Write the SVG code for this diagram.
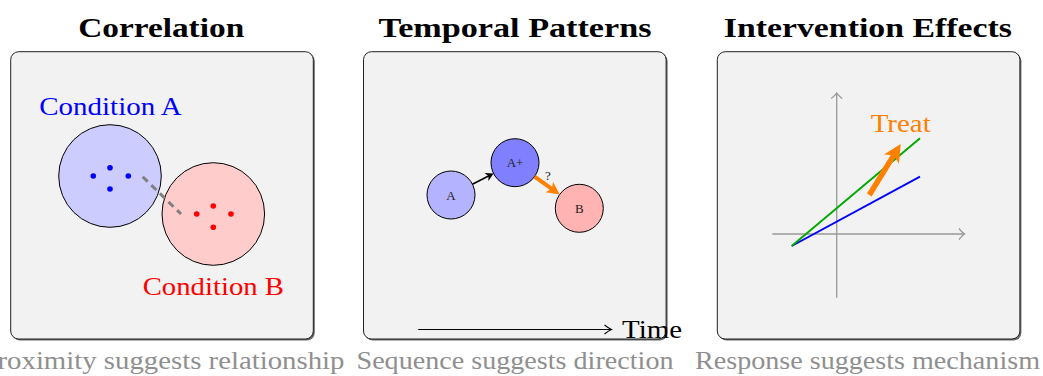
<svg xmlns="http://www.w3.org/2000/svg" width="1043" height="376" viewBox="0 0 1043 376">
<style>
text{font-family:"Liberation Serif","Times New Roman",serif}
.title{font-size:28px;font-weight:bold;fill:#000}
.lbl{font-size:26px}
.cap{font-size:26px;fill:#8f8f8f}
.small{font-size:13px;fill:#222}
.panel{fill:#f2f2f2;stroke:#222;stroke-width:1}
.shadow{fill:#666}
.cir{stroke:#000;stroke-width:1}
.axis{stroke:#999;stroke-width:1.3;fill:none}
</style>
<defs>
<marker id="stealthK" viewBox="-4 -4 8 8" markerWidth="8" markerHeight="8" refX="0" refY="0" orient="auto" markerUnits="strokeWidth" overflow="visible">
<path d="M2.5,0 L-2.5,-2.8 L-1.1,0 L-2.5,2.8 Z" fill="#000"/>
</marker>
<marker id="stealthO" viewBox="-4 -4 8 8" markerWidth="8" markerHeight="8" refX="0" refY="0" orient="auto" markerUnits="strokeWidth" overflow="visible">
<path d="M2,0 L-1.2,-1.6 L-0.4,0 L-1.2,1.6 Z" fill="#ff8000"/>
</marker>
<marker id="toK" viewBox="-10 -10 20 20" markerWidth="20" markerHeight="20" refX="0" refY="0" orient="auto" markerUnits="userSpaceOnUse" overflow="visible">
<path d="M-7,-4.5 Q-2.5,-1 0,0 Q-2.5,1 -7,4.5" fill="none" stroke="#000" stroke-width="1.1"/>
</marker>
<marker id="toG" viewBox="-10 -10 20 20" markerWidth="20" markerHeight="20" refX="0" refY="0" orient="auto" markerUnits="userSpaceOnUse" overflow="visible">
<path d="M-5.5,-5.5 Q-2,-1.2 0,0 Q-2,1.2 -5.5,5.5" fill="none" stroke="#999" stroke-width="1.3"/>
</marker>
</defs>
<rect width="1043" height="376" fill="#fff"/>

<!-- Titles -->
<g id="titles">
<text class="title" x="161.2" y="36.7" text-anchor="middle" textLength="166" lengthAdjust="spacingAndGlyphs">Correlation</text>
<text class="title" x="515" y="36.7" text-anchor="middle" textLength="273" lengthAdjust="spacingAndGlyphs">Temporal Patterns</text>
<text class="title" x="867.8" y="36.7" text-anchor="middle" textLength="288" lengthAdjust="spacingAndGlyphs">Intervention Effects</text>
</g>

<!-- Panel 1 -->
<g id="panel1">
<rect class="shadow" x="12.2" y="53.2" width="302.6" height="287.3" rx="8"/>
<rect class="panel" x="10.7" y="51.7" width="302.6" height="287.3" rx="8"/>
</g>
<g id="conditionA">
<circle class="cir" cx="110" cy="176" r="51.3" fill="#ccccff"/>
<g fill="#0000ff">
<circle cx="93.3" cy="176" r="2.8"/><circle cx="110" cy="167.7" r="2.8"/><circle cx="128.3" cy="176" r="2.8"/><circle cx="110" cy="189" r="2.8"/>
</g>
<text class="lbl" x="39.3" y="115" fill="#0000ff" textLength="142.4" lengthAdjust="spacingAndGlyphs">Condition A</text>
</g>
<g id="conditionB">
<circle class="cir" cx="213.3" cy="214" r="51.3" fill="#ffcccc"/>
<g fill="#ff0000">
<circle cx="196.7" cy="214" r="2.8"/><circle cx="213.3" cy="206" r="2.8"/><circle cx="231" cy="214" r="2.8"/><circle cx="213.3" cy="227.3" r="2.8"/>
</g>
<text class="lbl" x="142.7" y="295" fill="#ff0000" textLength="141.3" lengthAdjust="spacingAndGlyphs">Condition B</text>
</g>

<!-- Panel 2 -->
<g id="panel2">
<rect class="shadow" x="365" y="53.2" width="302.6" height="287.3" rx="8"/>
<rect class="panel" x="363.5" y="51.7" width="302.6" height="287.3" rx="8"/>
</g>
<g id="nodeA">
<circle class="cir" cx="451" cy="195" r="24" fill="#b3b3ff"/>
<text class="small" x="451" y="199.5" text-anchor="middle">A</text>
</g>
<g id="nodeAplus">
<circle class="cir" cx="515" cy="162.7" r="24" fill="#8080ff"/>
<text class="small" x="515" y="167" text-anchor="middle">A+</text>
</g>
<g id="nodeB">
<circle class="cir" cx="579.3" cy="208.3" r="24" fill="#ffb3b3"/>
<text class="small" x="579.3" y="212.5" text-anchor="middle">B</text>
</g>

<!-- Panel 3 -->
<g id="panel3">
<rect class="shadow" x="718.8" y="53.2" width="302.6" height="287.3" rx="8"/>
<rect class="panel" x="717.3" y="51.7" width="302.6" height="287.3" rx="8"/>
</g>
<g id="plot">
<line class="axis" x1="772.3" y1="234" x2="964.5" y2="234" marker-end="url(#toG)"/>
<line class="axis" x1="836.7" y1="297.7" x2="836.7" y2="93" marker-end="url(#toG)"/>
<line x1="791.7" y1="246" x2="920" y2="176.7" stroke="#0000ff" stroke-width="1.9"/>
<line x1="791.7" y1="246" x2="920" y2="138.3" stroke="#00aa00" stroke-width="1.9"/>
<text class="lbl" x="870.7" y="131.7" fill="#ff8000" textLength="60" lengthAdjust="spacingAndGlyphs">Treat</text>
</g>

<!-- Connectors -->
<g id="connectors">
<line x1="142.7" y1="176.7" x2="181" y2="214" stroke="#808080" stroke-width="3" stroke-dasharray="7 5"/>
<line x1="472.4" y1="184.2" x2="490.0" y2="175.3" stroke="#000" stroke-width="1.6" marker-end="url(#stealthK)"/>
<line x1="534.6" y1="176.6" x2="553.2" y2="189.8" stroke="#ff8000" stroke-width="4" marker-end="url(#stealthO)"/>
<text class="small" x="548" y="179.5" text-anchor="middle">?</text>
<line x1="869.3" y1="195" x2="894.9" y2="153.4" stroke="#ff8000" stroke-width="5.5" marker-end="url(#stealthO)"/>
<line x1="418.3" y1="329.5" x2="611.5" y2="329.5" stroke="#000" stroke-width="1.1" marker-end="url(#toK)"/>
</g>
<text class="lbl" x="622" y="338" fill="#000" textLength="60" lengthAdjust="spacingAndGlyphs">Time</text>

<!-- Captions -->
<g id="captions">
<text class="cap" x="-18.5" y="369" textLength="363" lengthAdjust="spacingAndGlyphs">Proximity suggests relationship</text>
<text class="cap" x="356.5" y="369" textLength="317" lengthAdjust="spacingAndGlyphs">Sequence suggests direction</text>
<text class="cap" x="695" y="369" textLength="345" lengthAdjust="spacingAndGlyphs">Response suggests mechanism</text>
</g>
</svg>
